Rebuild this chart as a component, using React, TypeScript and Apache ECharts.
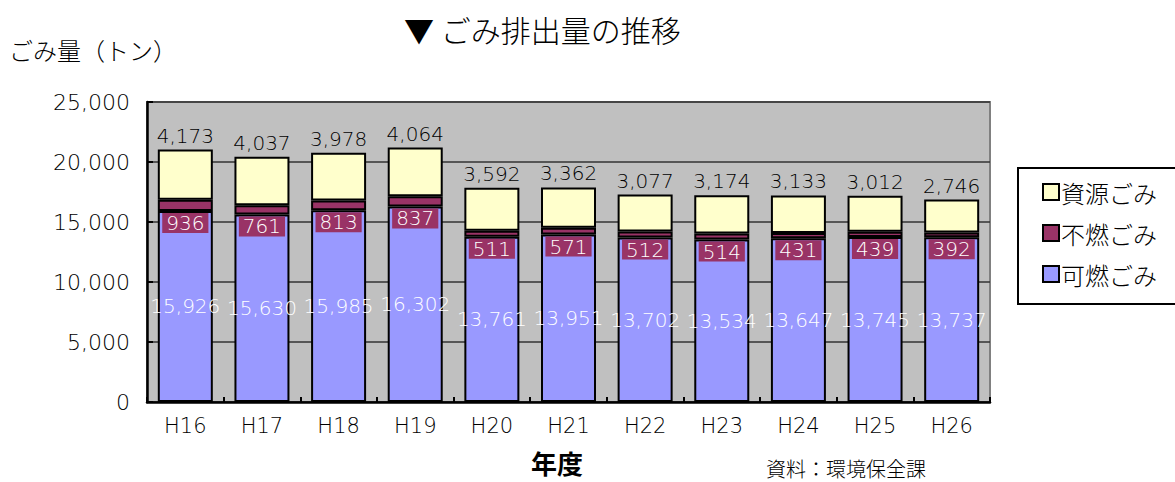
import React, { useEffect, useRef } from "react";
import * as echarts from "echarts";

const categories = ["H16", "H17", "H18", "H19", "H20", "H21", "H22", "H23", "H24", "H25", "H26"];
const kanen = [15926, 15630, 15985, 16302, 13761, 13951, 13702, 13534, 13647, 13745, 13737];
const funen = [936, 761, 813, 837, 511, 571, 512, 514, 431, 439, 392];
const shigen = [4173, 4037, 3978, 4064, 3592, 3362, 3077, 3174, 3133, 3012, 2746];
const yTicks = { min: 0, max: 25000, interval: 5000 };

const FONT = "'Noto Sans CJK JP', 'Noto Sans', sans-serif";
const NUM = "'DejaVu Sans', 'Noto Sans CJK JP', sans-serif";
const fmt = (v: number) => v.toLocaleString("en-US");

export default function App() {
  const ref = useRef<HTMLDivElement>(null);
  useEffect(() => {
    if (!ref.current) return;
    const chart = echarts.init(ref.current, null, { renderer: "svg" });
    const barBase = {
      type: "bar",
      stack: "total",
      barWidth: 55,
      itemStyle: { borderColor: "#000", borderWidth: 2 },
    };
    chart.setOption({
      animation: false,
      textStyle: { fontFamily: FONT },
      grid: {
        left: 147,
        top: 102,
        right: 185,
        bottom: 80,
        show: true,
        backgroundColor: "#c0c0c0",
        borderColor: "#808080",
        borderWidth: 2,
      },
      legend: {
        orient: "vertical",
        left: 1037,
        top: 174,
        itemWidth: 16,
        itemHeight: 16,
        itemGap: 15,
        icon: "rect",
        data: ["資源ごみ", "不燃ごみ", "可燃ごみ"],
        textStyle: {
          fontSize: 24,
          lineHeight: 26,
          color: "#000",
          fontFamily: FONT,
          fontWeight: 300,
          padding: [0, 0, 0, -3],
        },
      },
      xAxis: {
        type: "category",
        data: categories,
        axisLine: { lineStyle: { color: "#000", width: 2.5 } },
        axisTick: { show: true, inside: true, length: 5, lineStyle: { color: "#000", width: 2 } },
        axisLabel: { fontSize: 21, color: "#000", margin: 13, fontFamily: NUM, fontWeight: 200 },
      },
      yAxis: {
        type: "value",
        min: yTicks.min,
        max: yTicks.max,
        interval: yTicks.interval,
        axisLine: { show: true, lineStyle: { color: "#000", width: 2.5 } },
        axisTick: { show: true, inside: true, length: 6, lineStyle: { color: "#000", width: 2 } },
        axisLabel: {
          fontSize: 22,
          color: "#000",
          margin: 17,
          fontFamily: NUM,
          fontWeight: 200,
          formatter: (v: number) => fmt(v),
        },
        splitLine: { lineStyle: { color: "#333", width: 1.5 } },
      },
      series: [
        {
          ...barBase,
          name: "可燃ごみ",
          data: kanen,
          itemStyle: { ...barBase.itemStyle, color: "#9999ff" },
          label: {
            show: true,
            position: "inside",
            color: "#fff",
            fontSize: 20,
            fontFamily: NUM,
            fontWeight: 200,
            formatter: (p: any) => fmt(p.value),
          },
        },
        {
          ...barBase,
          name: "不燃ごみ",
          data: funen,
          itemStyle: { ...barBase.itemStyle, color: "#993366" },
          label: {
            show: true,
            position: "bottom",
            distance: 2,
            color: "#fff",
            fontSize: 20,
            fontFamily: NUM,
            fontWeight: 200,
            backgroundColor: "#993366",
            padding: [0, 4, 0, 4],
            lineHeight: 20,
            formatter: (p: any) => fmt(p.value),
          },
        },
        {
          ...barBase,
          name: "資源ごみ",
          data: shigen,
          itemStyle: { ...barBase.itemStyle, color: "#ffffcc" },
          label: {
            show: true,
            position: "top",
            distance: 4,
            color: "#000",
            fontSize: 20,
            fontFamily: NUM,
            fontWeight: 200,
            formatter: (p: any) => fmt(p.value),
          },
        },
      ],
      graphic: [
        {
          type: "rect",
          shape: { x: 1018, y: 168, width: 170, height: 136 },
          style: { fill: "#fff", stroke: "#000", lineWidth: 2 },
          z: -1,
        },
        {
          type: "text",
          left: 404,
          top: 14,
          style: { text: "▼ ごみ排出量の推移", fontSize: 30, fontWeight: 300, fill: "#000", fontFamily: FONT },
        },
        {
          type: "text",
          left: 9,
          top: 37,
          style: { text: "ごみ量（トン）", fontSize: 24, fontWeight: 300, fill: "#000", fontFamily: FONT },
        },
        {
          type: "text",
          left: 531,
          top: 449,
          style: { text: "年度", fontSize: 26, fontWeight: "bold", fill: "#000", fontFamily: FONT },
        },
        {
          type: "text",
          left: 766,
          top: 458,
          style: { text: "資料：環境保全課", fontSize: 20, fontWeight: 300, fill: "#000", fontFamily: FONT },
        },
      ],
    });
    return () => chart.dispose();
  }, []);
  return <div ref={ref} style={{ width: 1175, height: 482, position: "absolute", left: 0, top: 0 }} />;
}
